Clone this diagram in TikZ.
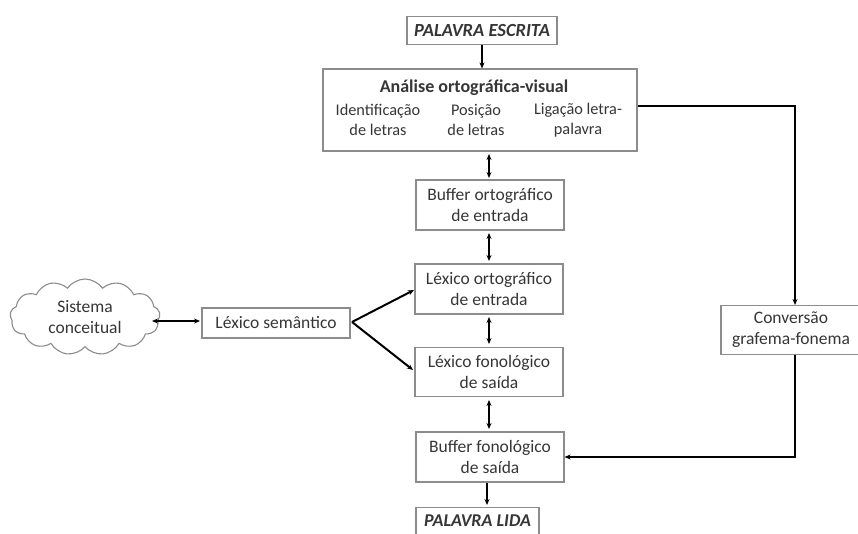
\documentclass[tikz,border=0pt]{standalone}
\usepackage{fontspec}
\setmainfont{Carlito}
\usetikzlibrary{arrows.meta,shapes.symbols}
\definecolor{txt}{HTML}{363636}
\definecolor{bord}{HTML}{8C8C8C}
\tikzset{
  box/.style={draw=bord, line width=1.1pt, text=txt, align=center, inner sep=0pt, font=\fontsize{17.5}{21}\selectfont},
  sub/.style={text=txt, align=center, font=\fontsize{16.3}{20}\selectfont},
  conn/.style={line width=1.5pt, draw=black, -{Stealth[length=6pt,width=5pt]}},
  bconn/.style={line width=1.5pt, draw=black, {Stealth[length=6pt,width=5pt]}-{Stealth[length=6pt,width=5pt]}},
  thick conn/.style={line width=2pt, draw=black, -{Stealth[length=6pt,width=5pt]}},
}
\begin{document}
\begin{tikzpicture}[x=1pt,y=-1pt]
\useasboundingbox (0,0) rectangle (858,533);
\fill[white] (0,0) rectangle (858,533);
% nodes
\node[box, minimum width=150pt, minimum height=28pt, font=\fontsize{18.5}{21}\selectfont\bfseries\itshape] (pe) at (482,30.5) {PALAVRA ESCRITA};
\node[box, minimum width=314pt, minimum height=82pt] (an) at (480,110) {};
\node[text=txt, font=\fontsize{18}{21}\selectfont\bfseries] (ant) at (474,88) {Análise ortográfica-visual};
\node[sub] (id) at (378,120) {Identificação\\de letras};
\node[sub] (po) at (476,120) {Posição\\de letras};
\node[sub] (li) at (578,120) {Ligação letra-\\palavra};
\node[box, minimum width=148pt, minimum height=50pt] (bo) at (490,205) {Buffer ortográfico\\de entrada};
\node[box, minimum width=148pt, minimum height=50pt] (lo) at (489,289) {Léxico ortográfico\\de entrada};
\node[box, minimum width=148pt, minimum height=49pt] (lf) at (489,372) {Léxico fonológico\\de saída};
\node[box, minimum width=148pt, minimum height=50pt] (bf) at (490,457) {Buffer fonológico\\de saída};
\node[box, minimum width=123pt, minimum height=40pt, anchor=north, font=\fontsize{18}{21}\selectfont\bfseries\itshape, text depth=14pt] (pl) at (477.5,507) {PALAVRA LIDA};
\node[box, minimum width=148pt, minimum height=30pt] (ls) at (276,323) {Léxico semântico};
\node[box, cloud, cloud puffs=13, cloud puff arc=110, aspect=2, minimum width=150pt, minimum height=76pt] (sc) at (85,317) {Sistema\\conceitual};
\node[box, minimum width=140pt, minimum height=49pt] (cg) at (791,330) {Conversão\\grafema-fonema};
% connectors
\coordinate (lsx) at (352,322);
\coordinate (t1) at (795,106);
\coordinate (t2) at (795,457);
\draw[conn] (pe.south) -- (pe.south |- an.north);
\draw[bconn] (489,154) -- (489,178);
\draw[bconn] (489,233) -- (489,261);
\draw[bconn] (489,317) -- (489,344);
\draw[bconn] (489,400) -- (489,429);
\draw[conn] (487,483) -- (487,505);
\draw[bconn] (152,321) -- (200,321);
\draw[thick conn] (lsx) -- (414,290);
\draw[thick conn] (lsx) -- (413,370);
\draw[conn] (an.east |- t1) -- (t1) -- (t1 |- cg.north);
\draw[conn] (t1 |- cg.south) -- (t2) -- (bf.east |- t2);
\end{tikzpicture}
\end{document}
